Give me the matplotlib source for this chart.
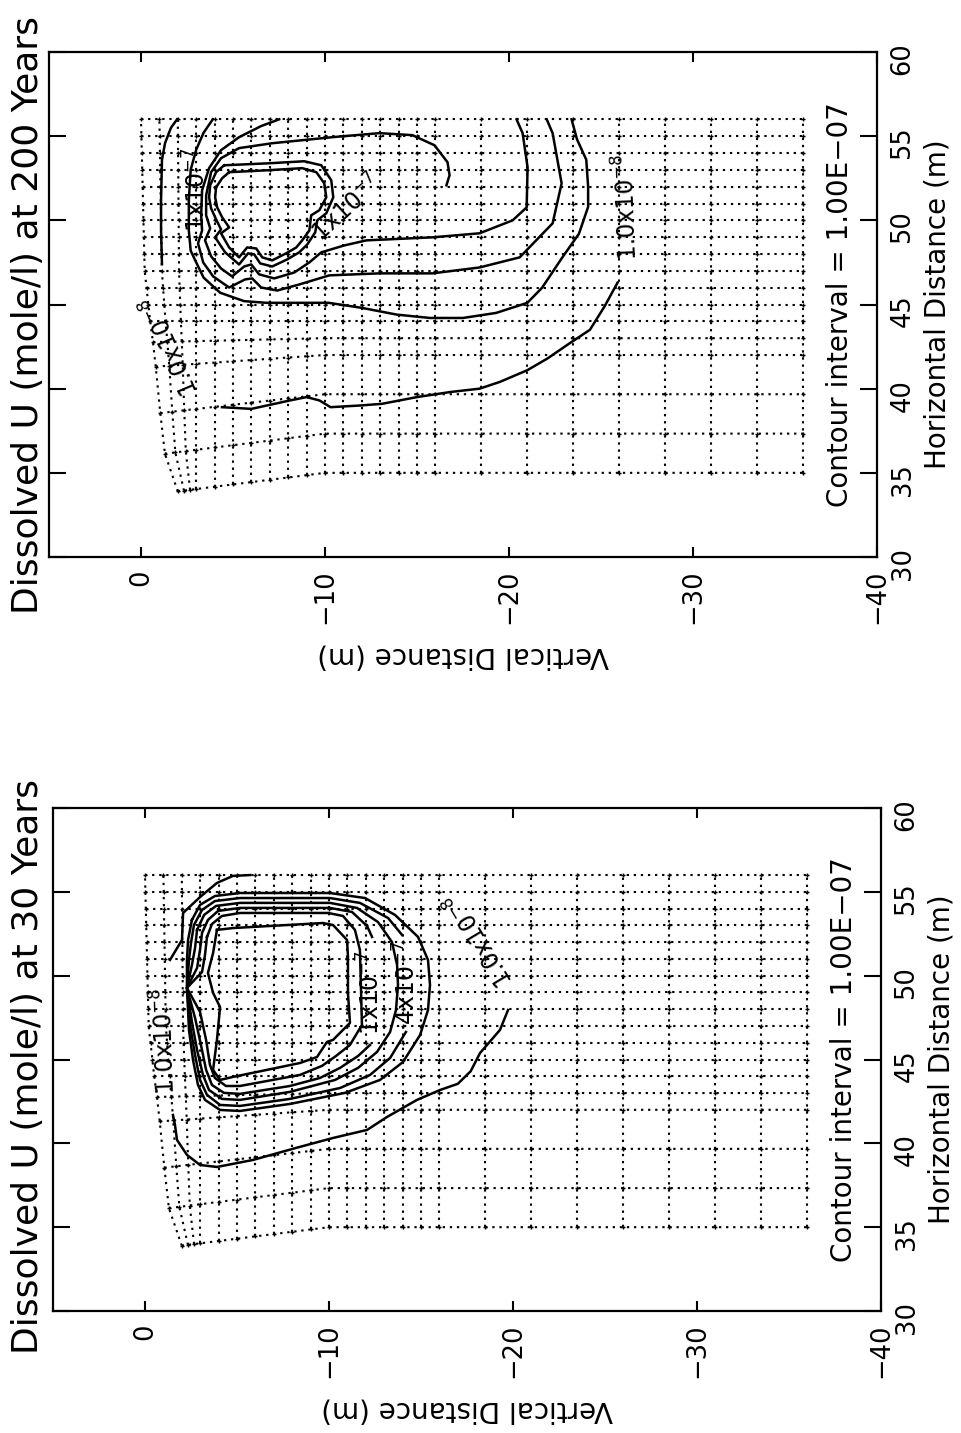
import numpy as np
import matplotlib.pyplot as plt

# ---- finite-difference mesh (vertical distance v, horizontal distance h) ----
ROW_H = [35.0, 37.33, 39.67] + [float(h) for h in range(42, 57)]
COL_V = [float(-d) for d in range(0, 17)] + [-18.5, -21.0, -23.5, -26.0, -28.5, -31.0, -33.5, -36.0]
SURF_H = [35.0, 37.33, 42.0, 44.0, 47.0, 56.0]
SURF_V = [-2.0, -1.3, -0.8, -0.5, -0.2, 0.0]
BEND_H = [35.0, 37.33, 39.67, 42.0, 43.0, 44.0]
BEND_DH = [-1.1, -1.1, -1.0, -0.6, -0.2, 0.0]

# ---- 200 years: contour traces (v, h) ----
A200_R_V = [-25.9, -25.2, -24.4, -23.3, -22.1, -21.0, -19.5, -18.4, -16.8, -15.0, -13.1, -11.9,
            -10.3, -9.7, -9.0, -8.1, -6.0, -4.4]
A200_R_H = [46.3, 44.9, 43.5, 42.7, 41.8, 41.1, 40.4, 40.0, 39.8, 39.5, 39.1, 39.0,
            38.9, 39.3, 39.5, 39.3, 38.8, 38.9]
A200_L_V = [-1.14, -1.09, -1.09, -1.14, -1.31, -1.63, -1.96]
A200_L_H = [47.4, 49.4, 51.2, 53.6, 54.6, 55.5, 56.0]
B200_V = [-3.9, -3.4, -3.0, -2.7, -2.6, -2.6, -2.7, -3.0, -3.4, -4.3, -5.6, -6.8, -8.6, -10.2,
          -12.0, -13.9, -15.7, -17.5, -19.3, -21.0, -21.8, -22.9, -23.8, -24.3, -24.3, -24.2, -23.7, -23.4]
B200_H = [56.0, 55.2, 54.2, 53.0, 51.2, 49.4, 48.2, 47.5, 46.6, 45.7, 45.2, 45.1, 45.1, 45.1,
          44.8, 44.4, 44.2, 44.2, 44.5, 45.1, 46.0, 47.8, 49.2, 50.8, 52.0, 53.6, 54.8, 56.0]
C200_V = [-7.51, -6.53, -5.33, -4.35, -3.70, -3.32, -3.27, -3.32, -3.10, -3.38, -3.92, -4.79, -5.66,
          -6.04, -6.53, -7.40, -8.60, -10.23, -12.96, -15.84, -18.40, -20.58, -22.37, -22.86, -22.37, -22.05]
C200_H = [56.0, 55.6, 54.94, 54.17, 53.10, 51.79, 50.30, 49.40, 48.63, 47.50, 46.67, 46.01, 46.49,
          46.55, 46.01, 45.83, 46.19, 46.73, 46.85, 46.85, 47.20, 47.80, 49.82, 52.2, 55.18, 56.0]
D200_V = [-16.60, -16.77, -16.66, -15.95, -14.75, -12.96, -10.40, -7.13, -5.33, -4.35, -3.81, -3.54,
          -3.54, -3.76, -3.48, -3.81, -4.35, -4.95, -5.61, -5.99, -6.42, -7.24, -8.33, -9.15, -9.80,
          -11.05, -12.25, -15.84, -18.40, -20.20, -20.96, -21.01, -20.74, -20.41]
D200_H = [52.08, 52.68, 53.45, 54.46, 55.06, 55.18, 54.94, 54.58, 54.29, 53.69, 52.86, 51.49,
          50.30, 49.52, 48.81, 47.86, 47.14, 46.67, 47.26, 47.38, 46.79, 46.55, 46.90, 47.50, 48.10,
          48.51, 48.81, 48.99, 49.23, 50.0, 50.77, 53.15, 55.18, 56.0]
E200_V = [-4.52, -6.97, -8.87, -9.80, -10.34, -10.45, -10.07, -9.58, -9.47, -9.04, -8.60, -7.95,
          -7.13, -6.48, -6.15, -5.82, -5.33, -4.57, -4.03, -4.35, -4.08, -3.81, -3.70, -3.76, -4.08, -4.52]
E200_H = [53.27, 53.39, 53.51, 53.27, 52.38, 51.37, 50.42, 50.0, 49.29, 48.57, 48.10, 47.68,
          47.26, 47.44, 47.98, 48.04, 47.38, 48.10, 48.99, 49.46, 50.06, 50.71, 51.37, 52.08, 52.86, 53.27]
F200_V = [-4.79, -6.97, -8.76, -9.53, -9.96, -10.07, -9.69, -9.25, -9.15, -8.76, -8.44, -7.89,
          -7.13, -6.59, -6.26, -5.77, -5.33, -4.79, -4.35, -4.79, -4.41, -4.14, -4.03, -4.08, -4.41, -4.79]
F200_H = [52.86, 52.98, 53.10, 52.86, 52.2, 51.37, 50.6, 50.3, 49.40, 48.81, 48.39, 48.04,
          47.62, 47.80, 48.33, 48.39, 47.80, 48.39, 49.23, 49.58, 50.18, 50.77, 51.37, 51.96, 52.5, 52.86]

# ---- 30 years: contour traces (v, h) ----
A30_L_V = [-5.71, -4.78, -3.91, -2.99, -2.07, -2.01, -1.36]
A30_L_H = [56.0, 55.95, 55.53, 54.69, 53.74, 52.13, 50.94]
A30_B_V = [-1.52, -1.63, -1.74, -2.28, -2.99, -3.91, -5.87, -8.42, -10.22, -12.07, -13.15, -14.78,
           -16.03, -17.0, -17.7, -18.21, -19.29, -19.73]
A30_B_H = [41.69, 41.1, 40.2, 39.31, 38.71, 38.59, 39.01, 39.79, 40.32, 40.8, 41.57, 42.59,
           43.18, 43.55, 44.3, 45.39, 46.76, 47.95]
B30_V = [-2.55, -2.99, -3.80, -5.16, -10.05, -11.96, -13.59, -14.84, -15.38, -15.49, -15.38, -14.95,
         -14.02, -12.77, -10.87, -7.88, -5.16, -4.08, -3.26, -2.88, -2.61, -2.39, -2.28, -2.28, -2.34, -2.55]
B30_H = [53.32, 54.22, 54.75, 54.93, 54.93, 54.63, 53.62, 52.31, 50.94, 49.45, 47.95, 46.46,
         44.85, 43.78, 43.01, 42.35, 41.93, 41.99, 42.59, 43.48, 44.97, 46.76, 49.27, 50.94, 52.13, 53.32]
C30_V = [-14.18, -13.32, -12.23, -10.60, -7.88, -5.16, -4.08, -3.37, -2.99, -2.72, -2.45, -2.28,
         -2.39, -2.50, -2.66, -3.10, -3.80, -5.16, -10.05, -11.68, -13.21, -13.97]
C30_H = [46.64, 45.09, 44.08, 43.30, 42.65, 42.23, 42.29, 42.89, 43.78, 45.27, 47.06, 49.27,
         50.94, 51.95, 53.02, 53.92, 54.45, 54.63, 54.63, 54.34, 53.44, 52.43]
D30_V = [-2.83, -3.21, -3.86, -5.16, -10.05, -11.52, -12.66, -13.42, -13.70, -13.75, -13.64, -13.32,
         -12.61, -11.58, -10.33, -7.88, -5.16, -4.18, -3.48, -3.15, -2.83, -2.55, -2.28, -2.55, -2.72, -2.83]
D30_H = [52.73, 53.62, 54.16, 54.34, 54.34, 54.04, 53.20, 52.01, 50.64, 49.45, 47.95, 46.64,
         45.45, 44.50, 43.78, 43.07, 42.59, 42.65, 43.18, 44.08, 45.57, 47.24, 49.27, 50.64, 51.65, 52.73]
E30_V = [-12.23, -11.58, -10.60, -9.51, -7.88, -5.16, -4.29, -3.64, -3.32, -3.04, -2.72, -2.28,
         -2.83, -2.99, -3.10, -3.42, -3.97, -5.16, -10.05, -11.25, -12.07, -12.34]
E30_H = [45.87, 45.21, 44.50, 43.90, 43.42, 42.95, 43.01, 43.48, 44.38, 45.87, 47.48, 49.27,
         50.46, 51.53, 52.55, 53.32, 53.86, 54.04, 54.04, 53.80, 52.96, 52.31]
F30_V = [-3.37, -3.64, -4.18, -5.16, -9.95, -10.76, -11.41, -11.68, -11.74, -11.79, -11.14, -10.38,
         -9.62, -8.42, -5.16, -4.40, -3.80, -3.53, -3.32, -2.99, -2.28, -3.10, -3.26, -3.37]
F30_H = [52.31, 53.08, 53.56, 53.74, 53.74, 53.56, 52.73, 51.53, 49.15, 47.06, 45.87, 45.21,
         44.62, 44.08, 43.42, 43.42, 43.90, 44.68, 46.17, 47.84, 49.27, 50.22, 51.23, 52.31]
G30_V = [-3.91, -4.78, -9.67, -10.22, -10.98, -11.03, -11.03, -11.14, -10.22, -9.89, -9.35, -8.42,
         -4.78, -4.08, -3.70, -3.91, -4.08, -3.70, -3.42, -3.70, -3.91]
G30_H = [52.73, 52.84, 53.14, 53.02, 52.13, 51.12, 48.97, 47.18, 46.17, 46.05, 45.15, 44.79,
         43.96, 43.78, 44.38, 46.17, 48.13, 48.97, 50.16, 51.35, 52.73]

# ---- contour labels: text, v, h, angle ----
LAB8 = '1.0x10$^{-8}$'
LAB7 = '1x10$^{-7}$'
LAB47 = '4x10$^{-7}$'
LABELS_200 = [(LAB8, -1.63, 42.6, 113), (LAB8, -26.4, 50.8, 92),
              (LAB7, -3.05, 51.8, 90), (LAB7, -11.2, 50.7, 42)]
LABELS_30 = [(LAB8, -1.1, 46.1, 92), (LAB8, -18.2, 52.2, 121),
             (LAB7, -12.3, 49.0, 90), (LAB47, -14.25, 49.6, 90)]


def mesh_lines(ax):
    H, V = np.meshgrid(ROW_H, COL_V, indexing='ij')
    s = np.interp(H, SURF_H, SURF_V)
    V = np.where(V > -3, s + (V / -3.0) * (-3.0 - s), V)
    bend = np.interp(ROW_H, BEND_H, BEND_DH)[:, None]
    w = np.clip((V + 10.0) / 8.0, 0, None)
    H = H + bend * w
    kw = dict(color='black', lw=1.5, ls=(0, (1.1, 2.3)))
    for i in range(H.shape[0]):
        ax.plot(V[i, :], H[i, :], **kw)
    for j in range(H.shape[1]):
        ax.plot(V[:, j], H[:, j], **kw)
    ax.plot(V.ravel(), H.ravel(), '+', color='black', ms=3.5, mew=1.0)


def style_axes(ax):
    ax.set_xlim(5, -40)
    ax.set_ylim(30, 60)
    ax.set_xticks([0, -10, -20, -30, -40])
    ax.set_yticks([30, 35, 40, 45, 50, 55, 60])
    ax.tick_params(axis='x', direction='in', top=True, bottom=True, length=7, width=1.5,
                   labelsize=18.5, labelrotation=90, pad=9)
    ax.tick_params(axis='y', direction='in', left=True, right=True, labelleft=False,
                   labelright=True, length=12, width=1.5, labelsize=18.5, labelrotation=90, pad=9)
    for sp in ax.spines.values():
        sp.set_linewidth(1.6)
    ax.text(0.5, -0.196, 'Vertical Distance (m)', transform=ax.transAxes, rotation=180,
            ha='center', va='center', fontsize=20)
    ax.text(1.073, 0.5, 'Horizontal Distance (m)', transform=ax.transAxes, rotation=90,
            ha='center', va='center', fontsize=20)
    ax.text(-38.0, 45.0, 'Contour interval = 1.00E\u221207', rotation=90,
            ha='center', va='center', fontsize=20)


fig = plt.figure(figsize=(9.61, 14.33), dpi=100)
ax1 = fig.add_axes([49 / 961, 1 - 557 / 1433, 828 / 961, 505 / 1433])
ax2 = fig.add_axes([53 / 961, 1 - 1311 / 1433, 828 / 961, 503 / 1433])

line = dict(color='black', lw=1.8)

mesh_lines(ax1)
for v, h in [(A200_R_V, A200_R_H), (A200_L_V, A200_L_H), (B200_V, B200_H), (C200_V, C200_H),
             (D200_V, D200_H), (E200_V, E200_H), (F200_V, F200_H)]:
    ax1.plot(v, h, **line)
for txt, v, h, ang in LABELS_200:
    ax1.text(v, h, txt, rotation=ang, ha='center', va='center', fontsize=17,
             rotation_mode='anchor')
style_axes(ax1)

mesh_lines(ax2)
for v, h in [(A30_L_V, A30_L_H), (A30_B_V, A30_B_H), (B30_V, B30_H), (C30_V, C30_H),
             (D30_V, D30_H), (E30_V, E30_H), (F30_V, F30_H), (G30_V, G30_H)]:
    ax2.plot(v, h, **line)
for txt, v, h, ang in LABELS_30:
    ax2.text(v, h, txt, rotation=ang, ha='center', va='center', fontsize=17,
             rotation_mode='anchor')
style_axes(ax2)

fig.text(28 / 961, 1 - 315 / 1433, 'Dissolved U (mole/l) at 200 Years', rotation=90,
         ha='center', va='center', fontsize=26)
fig.text(28 / 961, 1 - 1067 / 1433, 'Dissolved U (mole/l) at 30 Years', rotation=90,
         ha='center', va='center', fontsize=26)

fig.savefig('out.png', dpi=100)
